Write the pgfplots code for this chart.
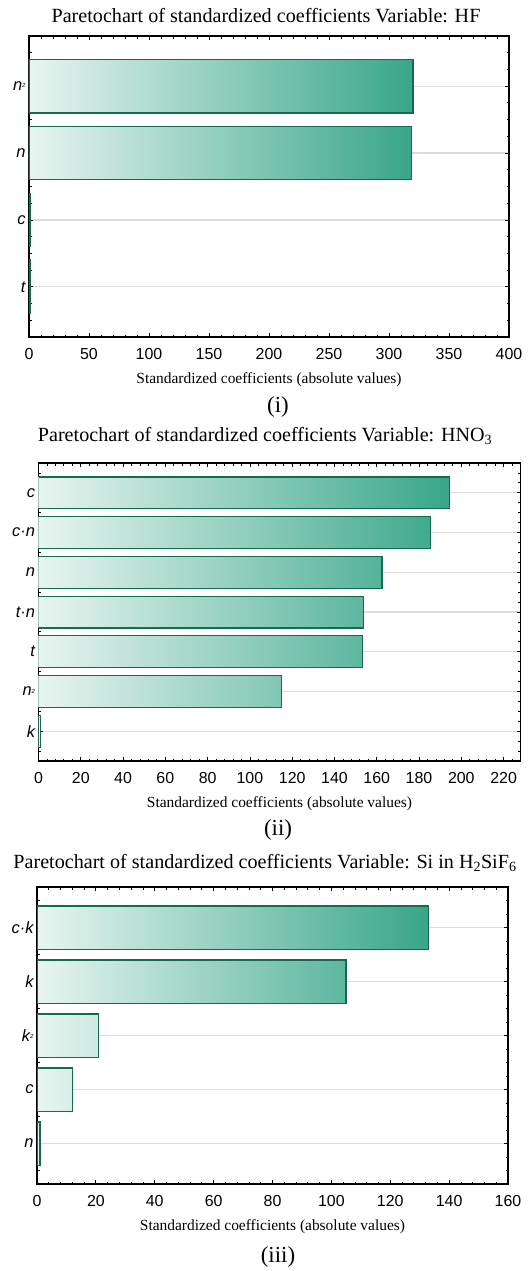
\documentclass[border=0pt]{standalone}
\usepackage{fontspec}
\setmainfont{Liberation Serif}
\newfontfamily\arial{Liberation Sans}
\usepackage{pgfplots}
\pgfplotsset{compat=1.18}
\definecolor{barlight}{HTML}{E8F5F1}
\definecolor{bardark}{HTML}{38A688}
\definecolor{baredge}{HTML}{146C4C}
\definecolor{gridgray}{HTML}{DCDCDC}
\newcommand\sq{\raisebox{0.3ex}{\fontsize{6}{6}\selectfont 2}}
\pgfplotsset{
  pareto/.style={
    scale only axis,
    anchor=south west,
    xmin=0,
    ymin=-0.75,
    axis line style={line width=1.2bp, black},
    every tick/.style={black, line width=0.8bp},
    major tick length=4bp,
    minor tick length=2.5bp,
    ymajorgrids,
    major grid style={gridgray, line width=1.2bp},
    tick label style={font=\arial\fontsize{16}{16}\selectfont},
    /pgf/number format/assume math mode=true,
    xticklabel style={anchor=base, yshift=-22bp},
    yticklabel style={font=\arial\itshape\fontsize{16.5}{16.5}\selectfont},
    xlabel style={at={(axis description cs:0.5,0)}, anchor=base, yshift=-46bp, font=\fontsize{15.5}{16}\selectfont},
    xlabel={Standardized coefficients (absolute values)},
    bar width=0.8,
  },
  pbar/.style={xbar, bar shift=0pt, draw=baredge, line width=1.2bp, left color=barlight, right color=bardark!#1!barlight},
}
\begin{document}
\begin{tikzpicture}
\path[use as bounding box] (0,0) rectangle (530bp,-1271bp);
% ---------- Panel (i) ----------
\node[anchor=base] at (266bp,-22bp) {\fontsize{20.2}{21}\selectfont Paretochart of standardized coefficients Variable: HF};
\begin{axis}[pareto,
  at={(29bp,-337bp)}, width=480bp, height=301bp,
  xmax=400, ymax=3.75,
  xtick={0,50,...,400}, minor xtick={0,10,...,400},
  ytick={0,1,2,3}, yticklabels={t,c,n,n\sq},
  minor ytick={-0.75,-0.5,...,3.75},
]
\addplot[pbar=100] coordinates {(320,3)};
\addplot[pbar=100] coordinates {(319,2)};
\addplot[pbar=1] coordinates {(1.5,1)};
\addplot[pbar=1] coordinates {(1.5,0)};
\end{axis}
\node[anchor=base] at (278bp,-412bp) {\fontsize{23}{23}\selectfont (i)};
% ---------- Panel (ii) ----------
\node[anchor=base] at (265bp,-441.7bp) {\fontsize{20.2}{21}\selectfont Paretochart of standardized coefficients Variable: HNO\textsubscript{3}};
\begin{axis}[pareto,
  at={(38.5bp,-761bp)}, width=482bp, height=298bp,
  xmax=228, ymax=6.75,
  xtick={0,20,...,220}, minor xtick={0,4,...,228},
  ytick={0,1,...,6}, yticklabels={k,n\sq,t,t·n,n,c·n,c},
  minor ytick={-0.75,-0.5,...,6.75},
]
\addplot[pbar=100] coordinates {(194.5,6)};
\addplot[pbar=95] coordinates {(185.3,5)};
\addplot[pbar=84] coordinates {(162.5,4)};
\addplot[pbar=79] coordinates {(153.8,3)};
\addplot[pbar=79] coordinates {(153.2,2)};
\addplot[pbar=59] coordinates {(115,1)};
\addplot[pbar=0] coordinates {(0.8,0)};
\end{axis}
\node[anchor=base] at (278bp,-835.5bp) {\fontsize{23}{23}\selectfont (ii)};
% ---------- Panel (iii) ----------
\node[anchor=base] at (265bp,-868.5bp) {\fontsize{20.2}{21}\selectfont Paretochart of standardized coefficients Variable: Si in H\textsubscript{2}SiF\textsubscript{6}};
\begin{axis}[pareto,
  at={(37bp,-1184bp)}, width=471bp, height=297bp,
  xmax=160, ymax=4.75,
  xtick={0,20,...,160}, minor xtick={0,4,...,160},
  ytick={0,1,...,4}, yticklabels={n,c,k\sq,k,c·k},
  minor ytick={-0.75,-0.5,...,4.75},
]
\addplot[pbar=100] coordinates {(133,4)};
\addplot[pbar=79] coordinates {(105,3)};
\addplot[pbar=16] coordinates {(21,2)};
\addplot[pbar=9] coordinates {(12,1)};
\addplot[pbar=1] coordinates {(1,0)};
\end{axis}
\node[anchor=base] at (278bp,-1262bp) {\fontsize{23}{23}\selectfont (iii)};
\end{tikzpicture}
\end{document}
